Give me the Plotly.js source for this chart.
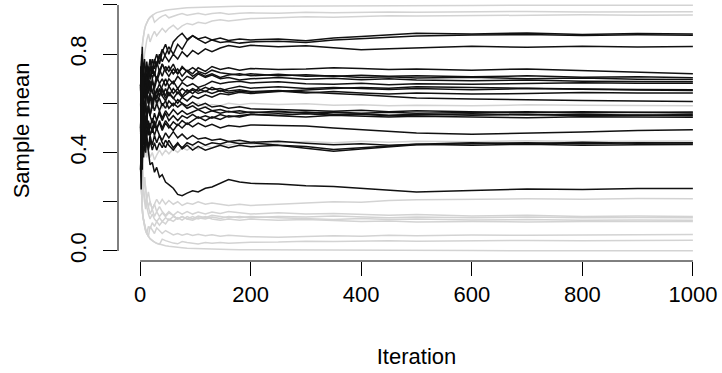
<!DOCTYPE html>
<html>
<head>
<meta charset="utf-8">
<script src="https://cdn.plot.ly/plotly-3.0.1.min.js"></script>
<style>html,body{margin:0;padding:0;background:#fff;}#chart{width:722px;height:373px;}</style>
</head>
<body>
<div id="chart"></div>
<script>
const iteration = [1,2,3,4,5,6,8,10,12,15,18,22,26,30,35,40,46,52,60,68,76,85,95,105,118,130,145,160,180,200,250,300,350,400,450,500,600,700,800,900,1000];

// Axis tick labels
const xTickVals = [0,200,400,600,800,1000];
const xTickText = ['0','200','400','600','800','1000'];
const yTickVals = [0,0.2,0.4,0.6,0.8,1.0];
const yTickText = ['0.0','','0.4','','0.8',''];

// Grey paths (drawn first)
const g01 = [0.667,0.75,0.8,0.833,0.857,0.875,0.9,0.917,0.929,0.941,0.95,0.958,0.964,0.969,0.973,0.976,0.979,0.981,0.984,0.986,0.987,0.989,0.99,0.991,0.992,0.992,0.993,0.994,0.995,0.995,0.996,0.997,0.997,0.998,0.998,0.998,0.998,0.999,0.999,0.999,0.999];
const g02 = [0.667,0.75,0.8,0.833,0.857,0.875,0.9,0.917,0.929,0.941,0.95,0.958,0.93,0.94,0.948,0.955,0.96,0.948,0.955,0.96,0.965,0.958,0.962,0.966,0.96,0.965,0.968,0.962,0.966,0.968,0.966,0.97,0.968,0.97,0.972,0.97,0.972,0.974,0.972,0.973,0.973];
const g03 = [0.667,0.75,0.6,0.667,0.714,0.75,0.8,0.833,0.857,0.882,0.85,0.875,0.893,0.875,0.892,0.905,0.89,0.905,0.918,0.9,0.915,0.925,0.92,0.93,0.925,0.935,0.94,0.935,0.94,0.945,0.948,0.952,0.95,0.954,0.956,0.955,0.957,0.958,0.96,0.958,0.959];
const g04 = [0.5,0.67,0.5,0.6,0.67,0.57,0.63,0.58,0.62,0.58,0.61,0.57,0.6,0.58,0.61,0.58,0.6,0.58,0.6,0.585,0.595,0.58,0.59,0.6,0.585,0.595,0.59,0.6,0.594,0.6,0.595,0.598,0.592,0.594,0.59,0.592,0.59,0.594,0.592,0.59,0.59];
const g05 = [0.5,0.33,0.5,0.4,0.5,0.43,0.38,0.42,0.38,0.41,0.38,0.4,0.37,0.39,0.41,0.39,0.41,0.395,0.415,0.4,0.42,0.41,0.425,0.415,0.43,0.42,0.435,0.43,0.44,0.435,0.44,0.445,0.44,0.446,0.442,0.446,0.444,0.448,0.445,0.446,0.447];
const g06 = [0.5,0.33,0.4,0.33,0.29,0.25,0.3,0.25,0.21,0.24,0.2,0.17,0.19,0.21,0.19,0.21,0.19,0.205,0.19,0.2,0.185,0.195,0.19,0.2,0.19,0.195,0.19,0.185,0.19,0.185,0.19,0.195,0.2,0.198,0.205,0.208,0.21,0.212,0.21,0.213,0.212];
const g07 = [0.5,0.33,0.25,0.2,0.29,0.25,0.2,0.17,0.21,0.18,0.15,0.17,0.14,0.16,0.14,0.155,0.14,0.155,0.145,0.16,0.15,0.16,0.15,0.158,0.15,0.158,0.152,0.16,0.155,0.15,0.155,0.15,0.152,0.148,0.145,0.148,0.142,0.145,0.14,0.142,0.14];
const g08 = [0.33,0.25,0.2,0.17,0.14,0.13,0.1,0.08,0.07,0.1,0.09,0.115,0.1,0.12,0.105,0.12,0.11,0.13,0.12,0.135,0.125,0.14,0.13,0.142,0.135,0.145,0.14,0.135,0.14,0.135,0.14,0.138,0.142,0.138,0.135,0.138,0.135,0.138,0.135,0.136,0.135];
const g09 = [0.5,0.33,0.4,0.33,0.29,0.25,0.22,0.2,0.17,0.15,0.13,0.15,0.13,0.12,0.135,0.12,0.135,0.125,0.14,0.13,0.14,0.13,0.125,0.135,0.13,0.138,0.132,0.14,0.135,0.14,0.135,0.132,0.128,0.132,0.128,0.13,0.126,0.128,0.125,0.126,0.125];
const g10 = [0.33,0.5,0.4,0.33,0.29,0.25,0.3,0.25,0.21,0.18,0.2,0.17,0.19,0.16,0.18,0.16,0.145,0.16,0.145,0.13,0.14,0.13,0.14,0.13,0.14,0.13,0.125,0.13,0.125,0.13,0.125,0.128,0.124,0.12,0.122,0.118,0.12,0.118,0.12,0.119,0.12];
const g11 = [0.33,0.25,0.2,0.17,0.14,0.125,0.1,0.083,0.071,0.059,0.1,0.083,0.071,0.094,0.081,0.071,0.083,0.074,0.065,0.071,0.064,0.07,0.063,0.068,0.062,0.066,0.06,0.064,0.06,0.058,0.056,0.06,0.062,0.06,0.064,0.062,0.065,0.064,0.066,0.067,0.067];
const g12 = [0.33,0.25,0.2,0.17,0.14,0.125,0.1,0.083,0.071,0.059,0.05,0.042,0.036,0.031,0.027,0.048,0.042,0.037,0.032,0.029,0.038,0.034,0.031,0.028,0.034,0.031,0.034,0.031,0.033,0.035,0.036,0.04,0.038,0.04,0.042,0.04,0.042,0.043,0.042,0.044,0.044];
const g13 = [0.333,0.25,0.2,0.167,0.143,0.125,0.1,0.083,0.071,0.059,0.05,0.042,0.036,0.031,0.027,0.024,0.021,0.019,0.016,0.014,0.013,0.011,0.01,0.009,0.008,0.008,0.007,0.006,0.005,0.005,0.004,0.003,0.003,0.002,0.002,0.002,0.002,0.001,0.001,0.001,0.001];

// Black paths (drawn on top)
const b01 = [0.67,0.75,0.6,0.67,0.71,0.63,0.7,0.75,0.69,0.74,0.78,0.72,0.77,0.8,0.76,0.81,0.84,0.8,0.85,0.87,0.885,0.86,0.875,0.862,0.87,0.858,0.866,0.856,0.862,0.858,0.862,0.855,0.866,0.872,0.88,0.885,0.882,0.886,0.88,0.884,0.882];
const b02 = [0.6,0.5,0.62,0.7,0.64,0.69,0.62,0.67,0.72,0.66,0.7,0.75,0.71,0.76,0.8,0.77,0.8,0.83,0.8,0.84,0.82,0.855,0.875,0.86,0.845,0.858,0.848,0.852,0.845,0.85,0.853,0.848,0.858,0.864,0.87,0.874,0.878,0.88,0.876,0.879,0.877];
const b03 = [0.67,0.75,0.8,0.7,0.74,0.68,0.72,0.66,0.7,0.75,0.7,0.74,0.78,0.75,0.79,0.82,0.79,0.77,0.8,0.78,0.81,0.79,0.815,0.8,0.822,0.81,0.825,0.835,0.828,0.836,0.83,0.834,0.826,0.818,0.822,0.826,0.832,0.828,0.832,0.829,0.831];
const b04 = [0.5,0.67,0.6,0.67,0.71,0.75,0.68,0.72,0.77,0.71,0.75,0.7,0.73,0.69,0.72,0.76,0.73,0.75,0.72,0.74,0.71,0.735,0.72,0.745,0.73,0.75,0.738,0.745,0.735,0.742,0.738,0.74,0.745,0.742,0.738,0.74,0.735,0.74,0.734,0.728,0.72];
const b05 = [0.67,0.5,0.6,0.5,0.57,0.63,0.56,0.61,0.66,0.6,0.65,0.7,0.66,0.7,0.74,0.71,0.75,0.73,0.76,0.72,0.75,0.73,0.71,0.725,0.71,0.72,0.705,0.715,0.72,0.712,0.718,0.71,0.712,0.705,0.708,0.703,0.706,0.7,0.703,0.698,0.697];
const b06 = [0.33,0.5,0.6,0.67,0.57,0.63,0.7,0.64,0.69,0.64,0.68,0.64,0.67,0.71,0.68,0.7,0.67,0.7,0.68,0.71,0.69,0.71,0.7,0.72,0.705,0.715,0.7,0.705,0.695,0.7,0.705,0.698,0.702,0.696,0.7,0.695,0.692,0.695,0.69,0.688,0.688];
const b07 = [0.67,0.75,0.6,0.5,0.57,0.5,0.56,0.6,0.54,0.59,0.63,0.58,0.62,0.66,0.63,0.67,0.7,0.67,0.69,0.66,0.685,0.67,0.68,0.665,0.675,0.69,0.68,0.686,0.69,0.683,0.688,0.68,0.678,0.682,0.676,0.68,0.678,0.68,0.684,0.682,0.682];
const b08 = [0.33,0.5,0.4,0.5,0.57,0.5,0.56,0.5,0.54,0.59,0.55,0.6,0.64,0.6,0.63,0.66,0.63,0.67,0.64,0.66,0.63,0.655,0.64,0.66,0.648,0.665,0.65,0.66,0.67,0.662,0.668,0.66,0.665,0.66,0.656,0.66,0.655,0.66,0.656,0.654,0.652];
const b09 = [0.67,0.5,0.6,0.67,0.71,0.63,0.67,0.61,0.65,0.6,0.64,0.61,0.65,0.62,0.66,0.63,0.61,0.64,0.62,0.645,0.625,0.64,0.655,0.64,0.65,0.64,0.652,0.642,0.65,0.645,0.65,0.642,0.648,0.642,0.638,0.642,0.638,0.64,0.644,0.642,0.642];
const b10 = [0.67,0.75,0.8,0.67,0.71,0.75,0.67,0.72,0.66,0.7,0.65,0.69,0.65,0.62,0.66,0.63,0.66,0.63,0.66,0.64,0.66,0.645,0.66,0.65,0.665,0.655,0.66,0.65,0.655,0.648,0.652,0.645,0.64,0.635,0.628,0.622,0.618,0.614,0.612,0.61,0.608];
const b11 = [0.5,0.33,0.4,0.5,0.43,0.5,0.56,0.5,0.54,0.59,0.55,0.6,0.57,0.6,0.57,0.6,0.58,0.61,0.59,0.615,0.6,0.59,0.605,0.59,0.6,0.585,0.59,0.58,0.586,0.578,0.575,0.572,0.568,0.572,0.566,0.57,0.566,0.562,0.566,0.562,0.561];
const b12 = [0.67,0.5,0.4,0.5,0.57,0.63,0.56,0.61,0.55,0.59,0.55,0.52,0.56,0.53,0.57,0.54,0.57,0.55,0.575,0.555,0.57,0.555,0.565,0.575,0.56,0.57,0.56,0.568,0.56,0.565,0.56,0.565,0.556,0.558,0.552,0.556,0.552,0.555,0.55,0.553,0.55];
const b13 = [0.33,0.5,0.6,0.5,0.57,0.5,0.44,0.5,0.46,0.53,0.5,0.54,0.5,0.53,0.56,0.53,0.56,0.53,0.55,0.53,0.55,0.54,0.555,0.54,0.55,0.54,0.555,0.545,0.55,0.556,0.55,0.545,0.552,0.548,0.545,0.548,0.545,0.542,0.546,0.544,0.544];
const b14 = [0.67,0.75,0.6,0.67,0.57,0.63,0.56,0.61,0.66,0.6,0.64,0.6,0.63,0.6,0.62,0.59,0.61,0.58,0.6,0.585,0.6,0.58,0.59,0.575,0.585,0.57,0.575,0.565,0.57,0.562,0.568,0.56,0.565,0.56,0.564,0.56,0.562,0.566,0.562,0.564,0.565];
const b15 = [0.5,0.67,0.5,0.6,0.5,0.57,0.5,0.55,0.5,0.47,0.52,0.48,0.52,0.49,0.53,0.5,0.53,0.51,0.49,0.515,0.5,0.52,0.505,0.52,0.505,0.515,0.5,0.51,0.505,0.512,0.51,0.508,0.5,0.494,0.486,0.48,0.474,0.478,0.484,0.49,0.493];
const b16 = [0.33,0.5,0.4,0.5,0.43,0.5,0.44,0.5,0.46,0.42,0.47,0.43,0.47,0.44,0.47,0.44,0.42,0.45,0.42,0.44,0.415,0.43,0.41,0.425,0.41,0.42,0.43,0.42,0.43,0.424,0.43,0.418,0.405,0.415,0.425,0.432,0.436,0.44,0.436,0.44,0.439];
const b17 = [0.67,0.5,0.6,0.5,0.57,0.5,0.56,0.5,0.54,0.5,0.47,0.5,0.47,0.5,0.47,0.45,0.48,0.46,0.485,0.46,0.475,0.455,0.47,0.455,0.46,0.45,0.455,0.445,0.45,0.442,0.446,0.438,0.432,0.436,0.43,0.434,0.43,0.434,0.43,0.432,0.433];
const b18 = [0.5,0.33,0.4,0.33,0.43,0.38,0.44,0.4,0.46,0.41,0.45,0.41,0.44,0.41,0.44,0.42,0.45,0.43,0.41,0.435,0.42,0.44,0.43,0.445,0.43,0.44,0.435,0.445,0.436,0.44,0.43,0.425,0.412,0.42,0.428,0.434,0.44,0.436,0.442,0.438,0.44];
const b19 = [0.5,0.67,0.5,0.6,0.5,0.43,0.5,0.42,0.46,0.4,0.35,0.36,0.32,0.34,0.3,0.31,0.28,0.27,0.255,0.23,0.225,0.235,0.245,0.24,0.255,0.26,0.275,0.29,0.28,0.275,0.272,0.265,0.262,0.255,0.245,0.24,0.246,0.252,0.25,0.254,0.254];
const b20 = [0.67,0.75,0.8,0.83,0.71,0.75,0.78,0.72,0.75,0.7,0.74,0.78,0.74,0.77,0.73,0.76,0.73,0.71,0.74,0.72,0.745,0.73,0.745,0.73,0.72,0.735,0.725,0.72,0.714,0.72,0.712,0.716,0.71,0.714,0.71,0.712,0.708,0.712,0.706,0.708,0.704];
const b21 = [0.5,0.67,0.75,0.6,0.67,0.71,0.63,0.67,0.71,0.65,0.69,0.65,0.62,0.65,0.68,0.65,0.62,0.645,0.62,0.6,0.625,0.61,0.63,0.62,0.635,0.625,0.64,0.635,0.645,0.64,0.648,0.655,0.66,0.665,0.662,0.668,0.664,0.66,0.658,0.656,0.655];
const b22 = [0.33,0.25,0.4,0.5,0.43,0.5,0.44,0.5,0.54,0.5,0.47,0.5,0.53,0.5,0.52,0.49,0.52,0.5,0.525,0.51,0.53,0.515,0.53,0.545,0.53,0.545,0.535,0.55,0.545,0.555,0.552,0.558,0.552,0.556,0.55,0.553,0.558,0.554,0.556,0.552,0.555];

const greySeries = [g01,g02,g03,g04,g05,g06,g07,g08,g09,g10,g11,g12,g13];
const blackSeries = [b01,b02,b03,b04,b05,b06,b07,b08,b09,b10,b11,b12,b13,b14,b15,b16,b17,b18,b19,b20,b21,b22];

const FONT = 'Liberation Sans, Arial, Helvetica, sans-serif';
const traces = [];
greySeries.forEach(function (s) {
  traces.push({x: iteration, y: s, type: 'scatter', mode: 'lines',
    line: {color: '#d3d3d3', width: 1.5}, hoverinfo: 'skip', showlegend: false});
});
blackSeries.forEach(function (s) {
  traces.push({x: iteration, y: s, type: 'scatter', mode: 'lines',
    line: {color: '#111111', width: 1.5}, hoverinfo: 'skip', showlegend: false});
});

const layout = {
  width: 722, height: 373,
  margin: {l: 118, r: 7, t: 0, b: 112, pad: 0},
  paper_bgcolor: '#ffffff', plot_bgcolor: '#ffffff',
  font: {family: FONT, size: 22, color: '#000'},
  showlegend: false,
  xaxis: {
    range: [-40, 1040], tickmode: 'array', tickvals: xTickVals, ticktext: xTickText,
    ticks: 'outside', ticklen: 14, tickwidth: 1, tickcolor: '#000',
    showline: false, showgrid: false, zeroline: false,
    tickfont: {family: FONT, size: 22, color: '#000'},
    title: {text: 'Iteration', font: {family: FONT, size: 22, color: '#000'}, standoff: 42}
  },
  yaxis: {
    range: [-0.0408, 1.0203], tickmode: 'array', tickvals: yTickVals, ticktext: yTickText,
    ticks: 'outside', ticklen: 14, tickwidth: 1, tickcolor: '#000', tickangle: -90,
    ticklabelstandoff: 8,
    showline: false, showgrid: false, zeroline: false,
    tickfont: {family: FONT, size: 22, color: '#000'},
    title: {text: 'Sample mean', font: {family: FONT, size: 22, color: '#000'}, standoff: 30}
  },
  shapes: [
    {type: 'line', xref: 'x', yref: 'paper', x0: xTickVals[0], x1: xTickVals[xTickVals.length - 1], y0: 0, y1: 0,
     line: {color: '#000', width: 1}},
    {type: 'line', xref: 'paper', yref: 'y', x0: 0, x1: 0, y0: yTickVals[0], y1: yTickVals[yTickVals.length - 1],
     line: {color: '#000', width: 1}}
  ]
};

Plotly.newPlot('chart', traces, layout, {staticPlot: true, displayModeBar: false});
</script>
</body>
</html>
